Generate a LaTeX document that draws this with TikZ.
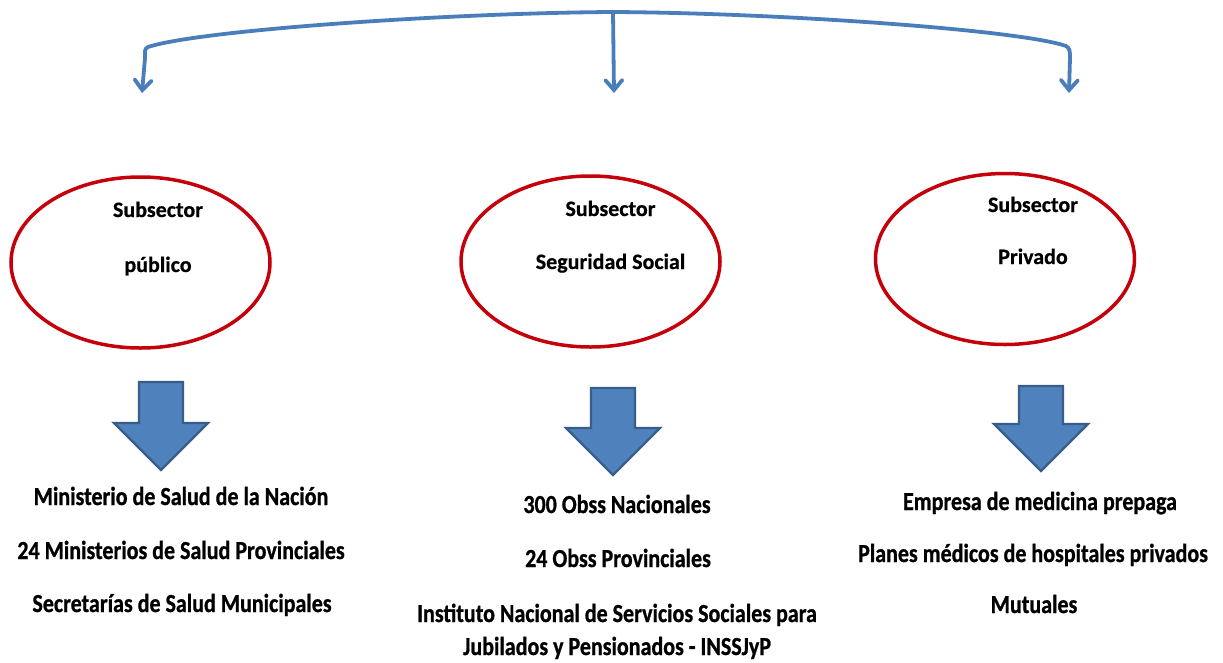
\documentclass[tikz,border=0pt]{standalone}
\usepackage{fontspec}
\setmainfont{Carlito}[BoldFeatures={FakeBold=0.6}]
\newfontfamily\btmfont[FakeStretch=0.846,BoldFeatures={FakeBold=0.8}]{Carlito}
\usetikzlibrary{arrows.meta,shapes.geometric}
\definecolor{ellred}{RGB}{196,0,10}
\definecolor{conblue}{RGB}{74,126,187}
\definecolor{blkfill}{RGB}{79,129,189}
\definecolor{blkdraw}{RGB}{56,93,138}
\newcommand\blockarrow[2]{%
  \path[blk] (#1) ++(-22,0) -- ++(44,0) -- ++(0,#2) -- ++(25,0) -- ++(-47,47) -- ++(-47,-47) -- ++(25,0) -- cycle;}
\begin{document}
\begin{tikzpicture}[x=1pt,y=-1pt,
  ell/.style={ellipse, draw=ellred, line width=3.5pt, minimum width=259pt, minimum height=171pt, inner sep=0pt},
  conn/.style={draw=conblue, line width=3.8pt, line cap=round, -{Straight Barb[length=10pt,width=17pt,line cap=round]}},
  lbl/.style={anchor=base, font=\fontsize{22}{26}\selectfont\bfseries, inner sep=0pt},
  item/.style={anchor=base, font=\btmfont\fontsize{26}{30}\selectfont\bfseries, inner sep=0pt},
  blk/.style={fill=blkfill, draw=blkdraw, line width=2.2pt, line join=miter}
]
\fill[white] (0,0) rectangle (1223,662);
\useasboundingbox (0,0) rectangle (1223,662);

% ellipses
\node[ell] (pub) at (140.5,262.5) {};
\node[ell] (seg) at (590.5,261.5) {};
\node[ell] (pri) at (1005,259) {};

\node[lbl] (pub1) at (158,217) {Subsector};
\node[lbl] (pub2) at (158,272) {público};
\node[lbl] (seg1) at (610.5,216) {Subsector};
\node[lbl] (seg2) at (610.5,269) {Seguridad Social};
\node[lbl] (pri1) at (1033,212) {Subsector};
\node[lbl] (pri2) at (1033,264) {Privado};

% top connector
\coordinate (top) at (613,12);
\coordinate (e1) at (142,93);
\coordinate (e2) at (614,93);
\coordinate (e3) at (1069,93);
\draw[conn] (top) .. controls (450,13) and (200,30) .. (148,47) .. controls (144,49) and (145,52) .. (145,58) -- (e1);
\draw[conn] (top) -- (e2);
\draw[conn] (top) .. controls (780,13) and (1020,30) .. (1066,46) .. controls (1070,48) and (1070,52) .. (1070,58) -- (e3);

% block arrows
\coordinate (b1) at (161,382);
\coordinate (b2) at (613,388);
\coordinate (b3) at (1041,386);
\blockarrow{b1}{41}
\blockarrow{b2}{40}
\blockarrow{b3}{38}

% lists
\node[item] (l1) at (181,505) {Ministerio de Salud de la Nación};
\node[item] (l2) at (181,559) {24 Ministerios de Salud Provinciales};
\node[item] (l3) at (182,612) {Secretarías de Salud Municipales};

\node[item] (m1) at (617,513) {300 Obss Nacionales};
\node[item] (m2) at (618,567) {24 Obss Provinciales};
\node[item] (m3) at (617,622) {Instituto Nacional de Servicios Sociales para};
\node[item] (m4) at (617,655) {Jubilados y Pensionados - INSSJyP};

\node[item] (r1) at (1040,510) {Empresa de medicina prepaga};
\node[item] (r2) at (1033,562) {Planes médicos de hospitales privados};
\node[item] (r3) at (1034,613) {Mutuales};
\end{tikzpicture}
\end{document}
